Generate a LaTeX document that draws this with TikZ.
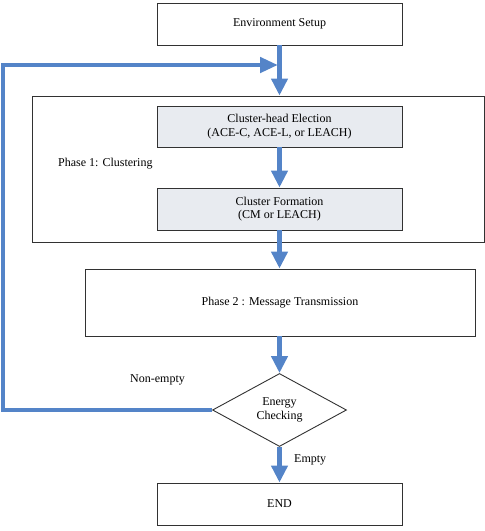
\documentclass[tikz,border=0pt]{standalone}
\usepackage{fontspec}
\setmainfont{Liberation Serif}
\usetikzlibrary{arrows.meta,shapes.geometric}
\definecolor{flowblue}{RGB}{84,132,200}
\definecolor{boxgray}{RGB}{232,235,240}
\definecolor{edgegray}{RGB}{50,50,50}
\begin{document}
\begin{tikzpicture}[x=1pt,y=-1pt,
  box/.style={draw=edgegray,line width=0.9pt,rectangle,inner sep=0pt,align=center,font=\fontsize{12}{13.5}\selectfont},
  graybox/.style={box,fill=boxgray},
  lbl/.style={inner sep=0pt,anchor=west,font=\fontsize{12}{13.5}\selectfont},
  flow/.style={draw=flowblue,line width=4.5pt,-{Triangle[width=16pt,length=17pt]}}]
\useasboundingbox (0,0) rectangle (485,531);
\node[box,minimum width=452pt,minimum height=146pt] (phase1) at (258,169) {};
\node[box,minimum width=245pt,minimum height=42pt] (env) at (279.5,24) {Environment Setup};
\node[graybox,minimum width=245pt,minimum height=41pt] (che) at (279.5,126.5) {Cluster-head Election\\(ACE-C, ACE-L, or LEACH)};
\node[graybox,minimum width=245pt,minimum height=42pt] (cf) at (279.5,209) {Cluster Formation\\(CM or LEACH)};
\node[box,minimum width=390pt,minimum height=67pt] (ph2) at (280,302.5) {Phase 2 : Message Transmission};
\node[draw=edgegray,line width=0.9pt,diamond,inner sep=0pt,minimum width=134pt,minimum height=73pt,align=center,font=\fontsize{12}{13.5}\selectfont] (chk) at (279.5,410) {Energy\\Checking};
\node[box,minimum width=245pt,minimum height=42pt] (end) at (279.5,504) {END};
\node[lbl] (p1lbl) at (58,164) {Phase 1: Clustering};
\node[lbl] (nelbl) at (130,380) {Non-empty};
\node[lbl] (elbl) at (294,460) {Empty};
\coordinate (bl) at (3,410);
\coordinate (tl) at (3,65);
\coordinate (join) at (278,65);
\draw[flow] (env.south) -- (env.south |- phase1.north);
\draw[flow] (che.south) -- (cf.north);
\draw[flow] (cf.south) -- (cf.south |- ph2.north);
\draw[flow] (ph2.south -| chk.north) -- (chk.north);
\draw[flow] (chk.south) -- (end.north);
\draw[draw=flowblue,line width=4.5pt,-{Triangle[width=15pt,length=18pt]}] (chk.west) -- (bl) -- (tl) -- (join);
\end{tikzpicture}
\end{document}
